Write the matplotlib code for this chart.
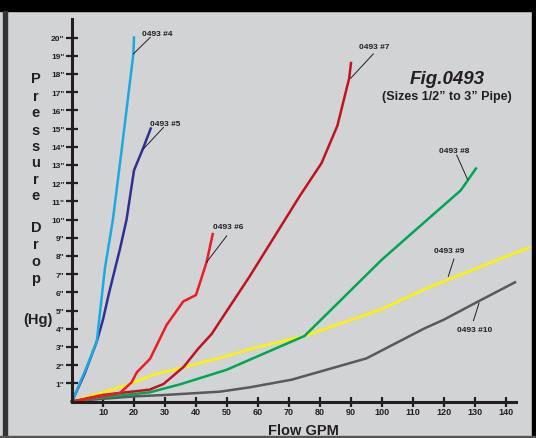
import matplotlib
matplotlib.use("Agg")
import matplotlib.pyplot as plt
from matplotlib.patches import Rectangle

plt.rcParams['font.family'] = ['Liberation Sans', 'DejaVu Sans']

# данные (GPM, дюймы рт. ст.)
x4 = [0, 5, 8, 10.6, 13.2, 16, 18, 19.8, 20]
y4 = [0, 2.0, 3.3, 7.3, 10.0, 13.8, 16.6, 19.1, 20.0]

x5 = [0, 4, 8, 10, 12, 15.5, 17.6, 20, 22.9, 25.4]
y5 = [0, 1.5, 3.3, 4.5, 6.0, 8.4, 10.0, 12.7, 13.9, 15.0]

x6 = [0, 10, 15.5, 19.2, 20.9, 25.2, 30.5, 35.9, 40, 43.4, 45.4]
y6 = [0, 0.3, 0.47, 1.05, 1.6, 2.35, 4.2, 5.5, 5.85, 7.65, 9.2]

x7 = [0, 10, 15.5, 25, 29.5, 36, 40.7, 45, 57.4, 73.5, 80.5, 85.6, 89.4, 90]
y7 = [0, 0.36, 0.47, 0.65, 0.96, 1.9, 2.9, 3.7, 6.9, 11.3, 13.1, 15.15, 17.75, 18.6]

x8 = [0, 10, 25, 35, 50, 57.4, 75, 100, 112, 125.4, 130.3]
y8 = [0, 0.23, 0.5, 0.95, 1.75, 2.3, 3.6, 7.8, 9.6, 11.6, 12.8]

x9 = [0, 10, 18.7, 26, 36, 51, 57.4, 75, 100, 115.5, 147.5]
y9 = [0, 0.5, 0.96, 1.46, 1.88, 2.55, 2.88, 3.6, 5.08, 6.3, 8.47]

x10 = [0, 10, 20, 30, 47.7, 57.4, 70.9, 95, 113.5, 120, 130.5, 142.9]
y10 = [0, 0.15, 0.28, 0.36, 0.54, 0.78, 1.2, 2.37, 4.0, 4.5, 5.45, 6.55]

x_ticks = [10, 20, 30, 40, 50, 60, 70, 80, 90, 100, 110, 120, 130, 140]
y_ticks = list(range(1, 21))

# подписи кривых: текст (x, y) и выноска (от, до)
labels = [
    ("0493 #4", (22.5, 20.2), (25.2, 20.0), (19.8, 19.1)),
    ("0493 #5", (25.2, 15.3), (29.5, 15.06), (23.0, 13.87)),
    ("0493 #6", (45.4, 9.63), (49.9, 9.1), (43.4, 7.65)),
    ("0493 #7", (92.7, 19.5), (97.2, 19.1), (89.9, 17.76)),
    ("0493 #8", (118.4, 13.8), (124.1, 13.54), (127.6, 12.2)),
    ("0493 #9", (116.9, 8.3), (123.2, 7.83), (121.4, 6.88)),
    ("0493 #10", (124.1, 3.93), (129.5, 4.44), (131.3, 5.41)),
]

bg = '#d2d3d5'
ink = '#231f20'

fig = plt.figure(figsize=(5.36, 4.39), dpi=100, facecolor=bg)

# рамка вокруг картинки
fig.patches.append(Rectangle((0, 1 - 12 / 439), 1, 12 / 439, transform=fig.transFigure,
                             color='black', zorder=0))
fig.patches.append(Rectangle((532 / 536, 0), 4 / 536, 1, transform=fig.transFigure,
                             color='black', zorder=0))
fig.patches.append(Rectangle((3 / 536, 0), 4 / 536, 1 - 12 / 439, transform=fig.transFigure,
                             color='#333333', zorder=0))
fig.patches.append(Rectangle((0, 1 / 439), 1, 1.5 / 439, transform=fig.transFigure,
                             color='#555555', zorder=0))

ax = fig.add_axes([72 / 536, 36.5 / 439, 458.8 / 536, 391.3 / 439])
ax.set_facecolor(bg)
ax.set_xlim(0, 148)
ax.set_ylim(0, 21.5)

lw = 1.8
ax.plot(x10, y10, color='#58595b', lw=lw, clip_on=False)
ax.plot(x9, y9, color='#fff200', lw=lw, clip_on=False)
ax.plot(x8, y8, color='#00a651', lw=lw, clip_on=False)
ax.plot(x7, y7, color='#c1121f', lw=lw, clip_on=False)
ax.plot(x6, y6, color='#ed1c24', lw=lw, clip_on=False)
ax.plot(x5, y5, color='#2e3192', lw=lw, clip_on=False)
ax.plot(x4, y4, color='#1ba9e1', lw=lw, clip_on=False)

for txt, pos, p0, p1 in labels:
    ax.text(pos[0], pos[1], txt, fontsize=6, fontweight='bold', color=ink,
            ha='left', va='center')
    ax.plot([p0[0], p1[0]], [p0[1], p1[1]], color=ink, lw=0.7)

for s in ['top', 'right']:
    ax.spines[s].set_visible(False)
ax.spines['left'].set_bounds(0, 21)
ax.spines['bottom'].set_bounds(0, 143.2)
for s in ['left', 'bottom']:
    ax.spines[s].set_linewidth(2.2)
    ax.spines[s].set_color(ink)
    ax.spines[s].set_zorder(5)

ax.set_xticks(x_ticks)
ax.set_xticklabels([str(v) for v in x_ticks])
ax.set_yticks(y_ticks)
ax.set_yticklabels([f'{v}"' for v in y_ticks])
ax.tick_params(axis='y', direction='inout', length=8.6, width=1.6, color=ink,
               labelsize=6, pad=1, labelcolor=ink)
ax.tick_params(axis='x', direction='inout', length=6.5, width=1.6, color=ink,
               labelsize=6.5, pad=1, labelcolor=ink)
for lab in ax.get_xticklabels() + ax.get_yticklabels():
    lab.set_fontweight('bold')

ax.set_xlabel('Flow GPM', fontsize=10.5, fontweight='bold', color=ink, labelpad=0)
ax.xaxis.set_label_coords((303 - 72) / 458.8, -(424 - 402.5) / 391.3)

# подпись оси Y буквами столбиком
word_y = [79, 97, 113, 131, 147, 163, 180, 196, 228, 245, 262, 279]
for ch, py in zip("PressureDrop", word_y):
    fig.text(36 / 536, 1 - py / 439, ch, fontsize=10.5, fontweight='bold', color=ink,
             ha='center', va='center')
fig.text(38 / 536, 1 - 320 / 439, '(Hg)', fontsize=10.5, fontweight='bold', color=ink,
         ha='center', va='center')

fig.text(446.7 / 536, 1 - 79.3 / 439, 'Fig.0493', fontsize=13.5, fontweight='bold',
         fontstyle='italic', color=ink, ha='center', va='center')
fig.text(446.7 / 536, 1 - 97.3 / 439, '(Sizes 1/2\u201d to 3\u201d Pipe)', fontsize=9,
         fontweight='bold', color=ink, ha='center', va='center')

fig.savefig('out.png', dpi=100, facecolor=bg)
